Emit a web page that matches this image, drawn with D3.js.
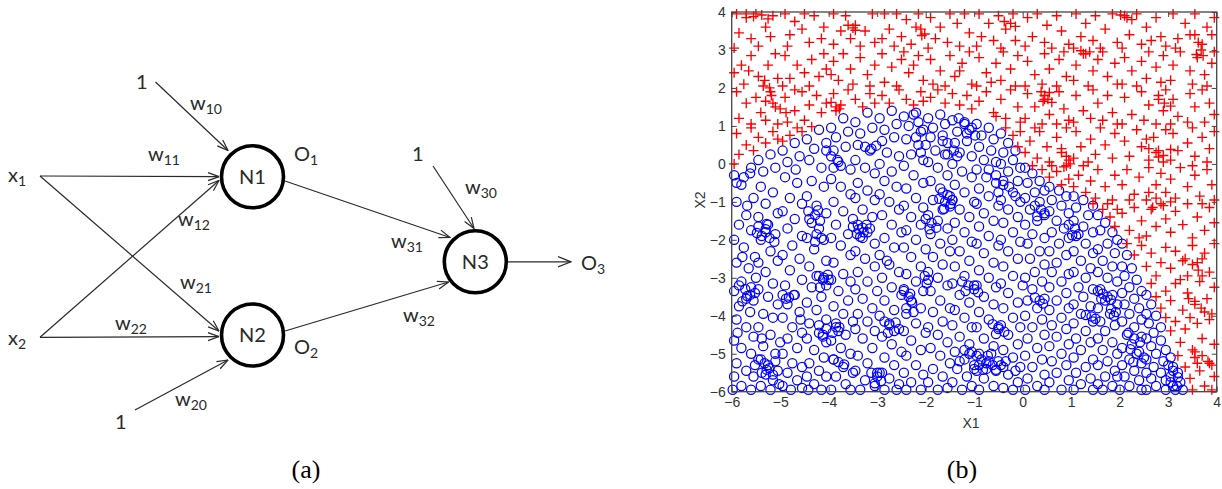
<!DOCTYPE html>
<html><head><meta charset="utf-8">
<script src="https://cdn.jsdelivr.net/npm/d3@7"></script>
<style>body{margin:0;background:#fff}svg{display:block}</style>
</head><body>
<svg id="fig" width="1222" height="489"></svg>
<script>
// ---------- DATA ----------
const xTicks = [-6,-5,-4,-3,-2,-1,0,1,2,3,4];
const yTicks = [-6,-5,-4,-3,-2,-1,0,1,2,3,4];
const xLabel = "X1";
const yLabel = "X2";
const panelLabels = ["(a)", "(b)"];
const nodeNames = ["N1", "N2", "N3"];

// class "o" (blue circles)
const blueClass = [
[-5.95,-0.3],[-5.8,-0.55],[-5.62,-0.25],[-5.9,-1.0],[-5.7,-1.35],[-5.55,-0.9],[-5.85,-1.6],[-5.6,-1.75],[-5.95,-2.0],[-5.75,-2.2],[-5.52,-2.45],[-5.9,-2.6],[-5.65,-2.75],[-5.8,-3.1],[-5.6,-3.25],[-5.95,-3.35],[-5.7,-3.55],[-5.52,-3.4],[-5.85,-3.75],[-5.62,-3.9],[-5.9,-4.1],[-5.7,-4.3],[-5.55,-4.55],[-5.95,-4.65],[-5.8,-4.85],[-5.6,-5.0],[-5.9,-5.25],[-5.7,-5.45],[-5.95,-5.6],[-5.55,-5.6],[-5.8,-5.85],[-5.6,-5.95],[-5.98,-5.95],[-5.68,-1.1],[-5.78,-2.45],[-5.5,-3.0],[-5.88,-4.45],[-5.52,-5.3],
[-5.45,0.1],[-5.2,0.25],[-5.35,-0.2],[-5.1,-0.1],[-5.4,-0.6],[-5.15,-0.75],[-5.3,-1.05],[-5.05,-1.3],[-5.45,-1.4],[-5.25,-1.6],[-5.1,-1.85],[-5.4,-2.0],[-5.2,-2.3],[-5.45,-2.6],[-5.05,-2.55],[-5.3,-2.85],[-5.15,-3.15],[-5.45,-3.3],[-5.25,-3.5],[-5.05,-3.7],[-5.35,-3.95],[-5.15,-4.05],[-5.45,-4.3],[-5.2,-4.5],[-5.0,-4.7],[-5.35,-4.8],[-5.1,-5.0],[-5.4,-5.15],[-5.25,-5.3],[-5.05,-5.45],[-5.3,-5.55],[-5.15,-5.7],[-5.4,-5.85],[-5.2,-5.95],[-5.02,-5.8],[-5.3,-1.8],[-5.12,-2.05],[-5.38,-4.6],
[-4.95,0.35],[-4.7,0.55],[-4.85,0.05],[-4.6,0.2],[-4.9,-0.35],[-4.65,-0.5],[-4.8,-0.9],[-4.55,-1.05],[-4.95,-1.25],[-4.7,-1.45],[-4.85,-1.7],[-4.55,-1.9],[-4.75,-2.15],[-4.95,-2.4],[-4.6,-2.5],[-4.8,-2.8],[-4.55,-3.05],[-4.9,-3.2],[-4.7,-3.45],[-4.85,-3.7],[-4.6,-3.9],[-4.95,-4.05],[-4.75,-4.3],[-4.55,-4.45],[-4.85,-4.6],[-4.65,-4.85],[-4.95,-5.0],[-4.75,-5.25],[-4.55,-5.35],[-4.85,-5.5],[-4.65,-5.7],[-4.95,-5.85],[-4.55,-5.9],[-4.78,-5.95],[-4.68,-0.15],[-4.88,-3.55],[-4.58,-4.1],
[-4.45,0.65],[-4.2,0.9],[-4.3,0.4],[-4.05,0.55],[-4.4,0.1],[-4.15,-0.1],[-4.35,-0.45],[-4.1,-0.6],[-4.45,-0.85],[-4.25,-1.1],[-4.05,-1.3],[-4.4,-1.45],[-4.2,-1.7],[-4.45,-1.95],[-4.1,-2.0],[-4.3,-2.25],[-4.05,-2.55],[-4.4,-2.7],[-4.2,-2.95],[-4.0,-3.05],[-4.35,-3.25],[-4.15,-3.5],[-4.45,-3.65],[-4.25,-3.85],[-4.05,-4.1],[-4.4,-4.2],[-4.2,-4.45],[-4.45,-4.6],[-4.05,-4.7],[-4.3,-4.9],[-4.1,-5.1],[-4.4,-5.25],[-4.2,-5.45],[-4.45,-5.6],[-4.05,-5.6],[-4.3,-5.8],[-4.15,-5.95],[-4.42,-5.95],[-4.1,-3.0],[-4.12,-4.55],
[-3.95,0.95],[-3.7,1.2],[-3.85,0.7],[-3.6,0.85],[-3.9,0.35],[-3.65,0.45],[-3.8,0.05],[-3.55,-0.15],[-3.95,-0.4],[-3.75,-0.6],[-3.55,-0.8],[-3.9,-1.0],[-3.7,-1.25],[-3.5,-1.45],[-3.85,-1.6],[-3.6,-1.85],[-3.95,-1.95],[-3.75,-2.15],[-3.55,-2.4],[-3.9,-2.6],[-3.7,-2.9],[-3.95,-3.05],[-3.55,-3.1],[-3.8,-3.35],[-3.6,-3.6],[-3.9,-3.75],[-3.7,-3.95],[-3.5,-4.15],[-3.85,-4.3],[-3.65,-4.5],[-3.95,-4.65],[-3.75,-4.85],[-3.55,-5.0],[-3.9,-5.15],[-3.7,-5.35],[-3.5,-5.5],[-3.85,-5.6],[-3.65,-5.8],[-3.95,-5.95],[-3.55,-5.95],[-3.8,-4.4],
[-3.45,1.1],[-3.2,1.35],[-3.35,0.8],[-3.1,0.95],[-3.4,0.5],[-3.15,0.35],[-3.45,0.1],[-3.25,-0.1],[-3.05,-0.25],[-3.4,-0.5],[-3.2,-0.7],[-3.45,-0.9],[-3.05,-0.95],[-3.3,-1.2],[-3.1,-1.4],[-3.4,-1.6],[-3.2,-1.8],[-3.3,-1.95],[-3.05,-2.1],[-3.45,-2.3],[-3.25,-2.5],[-3.05,-2.7],[-3.4,-2.85],[-3.2,-3.1],[-3.45,-3.3],[-3.0,-3.35],[-3.3,-3.55],[-3.1,-3.8],[-3.4,-3.95],[-3.2,-4.15],[-3.45,-4.35],[-3.05,-4.4],[-3.3,-4.6],[-3.1,-4.85],[-3.4,-5.05],[-3.2,-5.25],[-3.45,-5.45],[-3.0,-5.5],[-3.25,-5.7],[-3.05,-5.85],[-3.35,-5.95],[-3.15,-1.7],
[-2.95,1.2],[-2.7,1.4],[-2.85,0.9],[-2.6,1.05],[-2.9,0.6],[-2.65,0.7],[-2.8,0.3],[-2.55,0.2],[-2.95,0.0],[-2.7,-0.2],[-2.85,-0.45],[-2.6,-0.6],[-2.95,-0.8],[-2.75,-1.0],[-2.55,-1.2],[-2.9,-1.35],[-2.7,-1.6],[-2.5,-1.8],[-2.85,-1.95],[-2.65,-2.2],[-2.95,-2.4],[-2.75,-2.65],[-2.55,-2.85],[-2.9,-3.0],[-2.7,-3.25],[-2.5,-3.45],[-2.85,-3.6],[-2.65,-3.85],[-2.95,-4.0],[-2.75,-4.2],[-2.55,-4.35],[-2.9,-4.55],[-2.7,-4.75],[-2.5,-4.95],[-2.85,-5.1],[-2.65,-5.3],[-2.95,-5.5],[-2.75,-5.65],[-2.55,-5.8],[-2.85,-5.95],[-2.6,-5.95],[-2.8,-2.55],
[-2.45,1.25],[-2.2,1.35],[-2.35,1.0],[-2.1,0.85],[-2.4,0.65],[-2.15,0.5],[-2.3,0.25],[-2.05,0.1],[-2.45,-0.05],[-2.25,-0.3],[-2.05,-0.5],[-2.4,-0.65],[-2.2,-0.9],[-2.45,-1.1],[-2.05,-1.15],[-2.3,-1.4],[-2.1,-1.6],[-2.4,-1.75],[-2.2,-2.0],[-2.45,-2.2],[-2.0,-2.25],[-2.3,-2.45],[-2.1,-2.7],[-2.4,-2.9],[-2.2,-3.1],[-2.45,-3.3],[-2.05,-3.35],[-2.3,-3.6],[-2.1,-3.8],[-2.4,-3.95],[-2.2,-4.2],[-2.45,-4.4],[-2.0,-4.45],[-2.3,-4.65],[-2.1,-4.9],[-2.4,-5.05],[-2.2,-5.3],[-2.45,-5.5],[-2.05,-5.55],[-2.3,-5.75],[-2.1,-5.95],[-2.4,-5.95],
[-1.95,1.2],[-1.7,1.3],[-1.85,0.95],[-1.6,1.05],[-1.9,0.7],[-1.65,0.6],[-1.8,0.35],[-1.55,0.25],[-1.95,0.05],[-1.75,-0.1],[-1.55,-0.3],[-1.9,-0.45],[-1.7,-0.65],[-1.5,-0.85],[-1.85,-0.95],[-1.65,-1.2],[-1.95,-1.35],[-1.75,-1.5],[-1.55,-1.7],[-1.9,-1.85],[-1.7,-2.1],[-1.5,-2.3],[-1.85,-2.45],[-1.65,-2.65],[-1.95,-2.85],[-1.75,-3.0],[-1.55,-3.2],[-1.9,-3.35],[-1.7,-3.6],[-1.5,-3.8],[-1.85,-3.9],[-1.65,-4.15],[-1.95,-4.3],[-1.75,-4.5],[-1.55,-4.7],[-1.9,-4.85],[-1.7,-5.05],[-1.5,-5.25],[-1.85,-5.4],[-1.65,-5.6],[-1.95,-5.75],[-1.55,-5.9],[-1.75,-5.95],
[-1.45,1.15],[-1.2,1.1],[-1.35,0.85],[-1.1,0.9],[-1.4,0.55],[-1.15,0.6],[-1.3,0.3],[-1.05,0.2],[-1.45,0.0],[-1.25,-0.2],[-1.05,-0.35],[-1.4,-0.55],[-1.2,-0.75],[-1.45,-0.95],[-1.0,-1.0],[-1.3,-1.2],[-1.1,-1.4],[-1.4,-1.55],[-1.2,-1.8],[-1.45,-2.0],[-1.05,-2.05],[-1.3,-2.3],[-1.1,-2.55],[-1.4,-2.7],[-1.2,-2.95],[-1.45,-3.15],[-1.0,-3.2],[-1.3,-3.45],[-1.1,-3.65],[-1.4,-3.85],[-1.2,-4.05],[-1.45,-4.25],[-1.05,-4.3],[-1.3,-4.55],[-1.1,-4.75],[-1.4,-4.95],[-1.2,-5.15],[-1.0,-5.3],[-1.35,-5.4],[-1.15,-5.6],[-1.45,-5.75],[-1.25,-5.95],[-1.05,-5.85],[-1.1,-5.0],[-1.3,-5.2],[-1.2,-4.9],
[-0.95,1.05],[-0.7,0.95],[-0.85,0.75],[-0.6,0.65],[-0.9,0.45],[-0.65,0.35],[-0.8,0.1],[-0.55,0.05],[-0.95,-0.15],[-0.75,-0.35],[-0.55,-0.5],[-0.9,-0.65],[-0.7,-0.85],[-0.95,-1.05],[-0.5,-1.1],[-0.8,-1.3],[-0.6,-1.5],[-0.9,-1.65],[-0.7,-1.9],[-0.95,-2.1],[-0.5,-2.15],[-0.8,-2.35],[-0.6,-2.6],[-0.9,-2.8],[-0.7,-3.0],[-0.95,-3.2],[-0.55,-3.25],[-0.8,-3.5],[-0.6,-3.7],[-0.9,-3.9],[-0.7,-4.1],[-0.95,-4.3],[-0.5,-4.35],[-0.8,-4.6],[-0.6,-4.8],[-0.9,-5.0],[-0.7,-5.2],[-0.95,-5.45],[-0.55,-5.45],[-0.8,-5.65],[-0.6,-5.85],[-0.9,-5.95],[-0.75,-5.4],[-0.65,-5.0],
[-0.45,0.8],[-0.3,0.55],[-0.15,0.35],[-0.4,0.3],[-0.2,0.1],[-0.45,0.0],[-0.05,-0.1],[-0.3,-0.2],[-0.1,-0.45],[-0.4,-0.55],[-0.2,-0.75],[-0.45,-0.95],[-0.05,-1.0],[-0.3,-1.2],[-0.1,-1.4],[-0.4,-1.55],[-0.2,-1.8],[-0.45,-2.0],[-0.05,-2.05],[-0.3,-2.3],[-0.1,-2.5],[-0.4,-2.7],[-0.2,-2.95],[-0.45,-3.15],[0.0,-3.2],[-0.3,-3.4],[-0.1,-3.65],[-0.4,-3.8],[-0.2,-4.05],[-0.45,-4.25],[-0.05,-4.3],[-0.3,-4.5],[-0.1,-4.75],[-0.4,-4.9],[-0.2,-5.1],[-0.45,-5.3],[-0.05,-5.35],[-0.3,-5.55],[-0.1,-5.75],[-0.4,-5.9],[-0.2,-5.95],[-0.35,-5.2],[-0.15,-5.45],
[0.05,-0.1],[0.2,-0.25],[0.35,-0.45],[0.1,-0.5],[0.45,-0.7],[0.25,-0.75],[0.05,-0.9],[0.35,-1.0],[0.15,-1.2],[0.45,-1.3],[0.3,-1.5],[0.05,-1.6],[0.2,-1.85],[0.45,-1.95],[0.1,-2.1],[0.35,-2.3],[0.15,-2.5],[0.45,-2.65],[0.25,-2.85],[0.05,-3.0],[0.4,-3.1],[0.2,-3.3],[0.45,-3.55],[0.1,-3.6],[0.3,-3.8],[0.05,-4.0],[0.4,-4.1],[0.2,-4.3],[0.45,-4.5],[0.1,-4.6],[0.3,-4.85],[0.05,-5.05],[0.4,-5.15],[0.2,-5.35],[0.45,-5.55],[0.1,-5.65],[0.3,-5.85],[0.45,-5.95],[0.05,-5.95],
[0.55,-0.6],[0.75,-0.7],[0.9,-0.85],[0.6,-0.95],[0.8,-1.1],[0.55,-1.25],[0.95,-1.3],[0.7,-1.5],[0.85,-1.7],[0.6,-1.8],[0.95,-1.95],[0.75,-2.1],[0.55,-2.3],[0.9,-2.4],[0.7,-2.6],[0.6,-2.85],[0.95,-2.9],[0.8,-3.1],[0.55,-3.25],[0.9,-3.4],[0.7,-3.6],[0.95,-3.8],[0.55,-3.85],[0.8,-4.05],[0.6,-4.25],[0.9,-4.35],[0.7,-4.55],[0.95,-4.75],[0.55,-4.8],[0.8,-5.0],[0.6,-5.2],[0.9,-5.3],[0.7,-5.5],[0.95,-5.7],[0.55,-5.75],[0.8,-5.95],
[1.05,-0.85],[1.25,-0.95],[1.45,-1.1],[1.1,-1.15],[1.35,-1.35],[1.05,-1.5],[1.25,-1.65],[1.45,-1.8],[1.1,-1.9],[1.3,-2.1],[1.05,-2.3],[1.45,-2.35],[1.2,-2.55],[1.4,-2.75],[1.05,-2.85],[1.3,-3.0],[1.15,-3.25],[1.45,-3.3],[1.25,-3.5],[1.05,-3.7],[1.4,-3.75],[1.2,-3.95],[1.45,-4.15],[1.05,-4.2],[1.3,-4.4],[1.1,-4.6],[1.4,-4.7],[1.2,-4.9],[1.05,-5.1],[1.45,-5.15],[1.3,-5.35],[1.1,-5.5],[1.4,-5.65],[1.2,-5.8],[1.45,-5.95],[1.05,-5.95],
[1.55,-1.35],[1.7,-1.55],[1.85,-1.8],[1.6,-1.75],[1.95,-2.0],[1.75,-2.1],[1.55,-2.25],[1.9,-2.35],[1.65,-2.55],[1.85,-2.7],[1.55,-2.85],[1.75,-3.0],[1.95,-3.1],[1.6,-3.3],[1.85,-3.45],[1.7,-3.6],[1.95,-3.7],[1.55,-3.8],[1.8,-3.95],[1.6,-4.15],[1.9,-4.25],[1.7,-4.4],[1.55,-4.6],[1.85,-4.7],[1.65,-4.9],[1.95,-5.0],[1.75,-5.2],[1.55,-5.3],[1.9,-5.45],[1.7,-5.6],[1.55,-5.8],[1.85,-5.85],[1.95,-5.6],[1.65,-5.95],
[2.05,-2.1],[2.15,-2.4],[2.05,-2.7],[2.25,-2.75],[2.1,-2.95],[2.35,-3.05],[2.2,-3.25],[2.45,-3.35],[2.05,-3.4],[2.3,-3.55],[2.1,-3.7],[2.4,-3.8],[2.2,-3.95],[2.45,-4.1],[2.05,-4.15],[2.3,-4.3],[2.15,-4.5],[2.45,-4.55],[2.25,-4.75],[2.05,-4.85],[2.4,-4.95],[2.2,-5.15],[2.45,-5.25],[2.05,-5.3],[2.3,-5.45],[2.1,-5.6],[2.4,-5.7],[2.2,-5.85],[2.45,-5.95],[2.0,-5.95],
[2.55,-3.45],[2.65,-3.7],[2.55,-3.95],[2.75,-4.0],[2.6,-4.2],[2.85,-4.3],[2.7,-4.45],[2.55,-4.6],[2.85,-4.65],[2.65,-4.8],[2.95,-4.9],[2.75,-5.0],[2.55,-5.15],[2.9,-5.2],[2.7,-5.35],[2.55,-5.5],[2.85,-5.5],[2.65,-5.65],[2.95,-5.7],[2.75,-5.85],[2.55,-5.95],[2.95,-5.95],
[3.05,-5.1],[3.1,-5.35],[3.2,-5.5],[3.05,-5.6],[3.25,-5.75],[3.1,-5.85],[3.3,-5.95],[3.15,-5.95],
[-5.45,-1.65],[-5.3,-1.72],[-5.38,-1.9],[-5.22,-1.95],[-5.48,-1.82],[-5.28,-1.58],
[-4.42,-1.25],[-4.28,-1.35],[-4.18,-1.5],[-4.35,-1.55],[-4.22,-1.22],
[-4.25,-1.85],[-4.15,-1.95],[-4.28,-2.05],
[-3.5,-1.65],[-3.38,-1.72],[-3.28,-1.8],[-3.35,-1.92],[-3.22,-1.6],[-3.42,-1.85],[-3.3,-1.68],
[-4.25,-2.95],[-4.12,-3.05],[-4.05,-3.2],[-4.18,-3.25],[-4.02,-2.92],
[-5.85,-3.2],[-5.72,-3.3],[-5.62,-3.45],[-5.78,-3.62],[-5.55,-3.6],[-5.68,-3.48],
[-4.95,-3.45],[-4.82,-3.52],[-4.72,-3.45],
[-5.45,-5.15],[-5.32,-5.25],[-5.22,-5.38],[-5.38,-5.5],[-5.15,-5.55],[-5.28,-5.42],[-5.1,-5.2],
[-4.2,-4.25],[-4.05,-4.35],[-3.92,-4.45],[-3.78,-4.3],[-4.12,-4.5],[-3.85,-4.2],
[-2.85,-4.15],[-2.75,-4.25],[-2.65,-4.4],[-2.78,-4.45],[-2.62,-4.18],
[-2.45,-3.35],[-2.35,-3.5],[-2.28,-3.65],[-2.4,-3.8],[-2.25,-3.9],[-2.32,-3.42],
[-3.12,-5.5],[-3.0,-5.6],[-2.92,-5.72],[-3.05,-5.78],[-2.9,-5.5],
[-2.02,-2.95],[-1.95,-3.05],[-1.98,-3.15],
[-3.9,-5.15],[-3.8,-5.22],[-3.68,-5.28],
[-1.72,-0.92],[-1.6,-1.0],[-1.5,-1.12],[-1.62,-1.18],[-1.45,-0.95],
[-2.0,-1.45],[-1.88,-1.55],[-1.78,-1.68],[-1.92,-1.72],
[-1.05,-4.95],[-0.95,-5.05],[-0.85,-5.15],[-0.75,-5.25],[-0.62,-5.3],[-0.5,-5.2],[-0.4,-5.35],[-0.9,-5.3],[-0.72,-5.05],[-0.55,-5.42],[-1.0,-5.4],[-0.82,-5.42],
[0.25,-1.1],[0.38,-1.2],[0.45,-1.35],[0.3,-1.38],
[0.95,-1.6],[1.08,-1.7],[1.15,-1.85],[1.02,-1.88],
[1.55,-3.35],[1.65,-3.42],[1.75,-3.5],[1.82,-3.58],[1.62,-3.55],
[1.82,-3.82],[1.92,-3.9],[1.88,-4.0],
[1.3,-3.98],[1.42,-4.02],[1.5,-4.08],
[2.18,-4.45],[2.3,-4.6],[2.42,-4.7],[2.22,-4.88],[2.35,-5.0],[2.5,-5.1],[2.28,-5.22],
[0.25,-3.52],[0.35,-3.6],[0.42,-3.68],
[-0.62,-4.22],[-0.5,-4.3],[-0.38,-4.42],[-0.55,-4.48],
[-1.65,-0.75],[-1.55,-0.82],[-1.48,-1.05],
[-1.25,-3.1],[-1.12,-3.2],[-1.0,-3.3],[-0.92,-3.38],[-1.18,-3.35],
[3.0,-5.3],[3.1,-5.45],[3.2,-5.62],[3.05,-5.75],[3.18,-5.85],
[-1.32,1.2],[-1.2,1.05],[-1.05,0.95],[-1.15,0.8],[-0.98,0.75],
[-1.65,0.75],[-1.55,0.55],[-1.42,0.35],[-1.35,0.2],[-1.6,0.25],
[-0.7,-0.15],[-0.55,-0.3],[-0.4,-0.45],[-0.28,-0.6],[-0.15,-0.85],[-0.5,-0.75],
[-4.05,0.35],[-3.95,0.2],[-3.82,0.1],[-3.75,-0.05],[-3.9,-0.1],
[-2.25,1.3],[-2.15,1.1],[-2.05,0.9],[-2.2,0.7],[-2.0,0.5],[-2.1,0.3],
[-3.25,0.45],[-3.12,0.4],[-3.02,0.48],
[-5.6,-0.1],[-5.75,-0.35],[-5.9,-0.5]
];

// class "+" (red crosses)
const redClass = [
[-5.9,3.95],[-5.7,3.85],[-5.5,3.95],[-5.85,3.45],[-5.6,3.3],[-5.3,3.6],[-5.95,3.05],[-5.45,3.1],[-5.15,3.9],[-5.2,3.35],
[-4.9,3.95],[-4.7,3.75],[-4.5,3.95],[-4.8,3.4],[-4.55,3.55],[-4.3,3.9],[-4.1,3.6],[-4.4,3.2],[-4.85,3.1],[-4.15,3.3],
[-3.9,3.95],[-3.65,3.9],[-3.45,3.65],[-3.75,3.5],[-3.55,3.3],[-3.25,3.5],[-3.9,3.15],[-3.1,3.95],[-3.35,3.1],[-3.05,3.2],
[-2.85,3.95],[-2.6,3.95],[-2.4,3.8],[-2.75,3.55],[-2.9,3.3],[-2.5,3.35],[-2.2,3.6],[-2.15,3.95],[-2.65,3.1],[-2.3,3.15],
[-1.9,3.85],[-1.7,3.6],[-1.5,3.95],[-1.35,3.7],[-1.8,3.3],[-1.55,3.2],[-1.2,3.95],[-1.1,3.45],[-1.95,3.05],[-1.3,3.1],
[-0.9,3.95],[-0.7,3.7],[-0.5,3.9],[-0.85,3.35],[-0.6,3.25],[-0.35,3.55],[-0.2,3.95],[-0.15,3.25],[-0.45,3.05],[-0.95,3.1],
[0.1,3.85],[0.3,3.95],[0.5,3.65],[0.2,3.35],[0.45,3.2],[0.7,3.9],[0.8,3.5],[0.95,3.15],[0.6,3.05],[0.05,3.1],
[1.1,3.95],[1.3,3.7],[1.5,3.9],[1.2,3.35],[1.45,3.25],[1.7,3.55],[1.85,3.95],[1.95,3.2],[1.6,3.05],[1.05,3.05],
[2.1,3.9],[2.35,3.95],[2.55,3.6],[2.2,3.4],[2.45,3.15],[2.75,3.85],[2.85,3.35],[2.95,3.1],[2.65,3.25],[2.05,3.05],
[3.1,3.95],[3.35,3.7],[3.55,3.95],[3.8,3.6],[3.95,3.85],[3.2,3.3],[3.45,3.4],[3.7,3.15],[3.9,3.4],[3.15,3.05],
[-5.95,2.4],[-5.8,2.6],[-5.6,2.85],[-5.75,2.1],[-5.45,2.3],[-5.25,2.6],[-5.1,2.9],[-5.35,2.05],[-5.05,2.25],[-5.65,2.45],
[-4.9,2.85],[-4.65,2.6],[-4.8,2.25],[-4.5,2.4],[-4.35,2.75],[-4.1,2.9],[-4.2,2.3],[-4.95,2.05],[-4.4,2.05],[-4.05,2.5],
[-3.9,2.7],[-3.7,2.9],[-3.55,2.5],[-3.8,2.2],[-3.35,2.8],[-3.2,2.35],[-3.5,2.1],[-3.05,2.6],[-3.95,2.35],[-3.15,2.05],
[-2.9,2.9],[-2.7,2.55],[-2.85,2.15],[-2.5,2.75],[-2.35,2.4],[-2.6,2.05],[-2.15,2.85],[-2.05,2.2],[-2.45,2.95],[-2.25,2.6],
[-1.9,2.75],[-1.7,2.45],[-1.85,2.1],[-1.5,2.85],[-1.4,2.3],[-1.25,2.65],[-1.1,2.95],[-1.05,2.1],[-1.6,2.05],[-1.3,2.45],
[-0.9,2.8],[-0.75,2.4],[-0.95,2.05],[-0.55,2.65],[-0.4,2.95],[-0.45,2.2],[-0.25,2.5],[-0.1,2.85],[-0.15,2.05],[-0.65,2.15],
[0.1,2.7],[0.25,2.35],[0.05,2.05],[0.45,2.9],[0.55,2.5],[0.4,2.1],[0.75,2.75],[0.9,2.3],[0.85,2.95],[0.7,2.05],
[1.1,2.6],[1.25,2.9],[1.05,2.2],[1.45,2.45],[1.55,2.75],[1.35,2.05],[1.75,2.3],[1.9,2.65],[1.65,2.95],[1.95,2.1],
[2.1,2.8],[2.25,2.45],[2.05,2.1],[2.45,2.7],[2.6,2.95],[2.55,2.25],[2.75,2.55],[2.9,2.85],[2.85,2.15],[2.35,2.05],
[3.1,2.6],[3.25,2.95],[3.05,2.2],[3.45,2.45],[3.6,2.8],[3.5,2.1],[3.75,2.35],[3.9,2.65],[3.95,2.95],[3.8,2.05],
[-5.9,1.9],[-5.7,1.6],[-5.85,1.2],[-5.5,1.75],[-5.4,1.35],[-5.6,1.05],[-5.2,1.9],[-5.1,1.5],[-5.3,1.15],[-5.05,1.05],
[-4.9,1.75],[-4.7,1.4],[-4.85,1.1],[-4.55,1.9],[-4.4,1.55],[-4.5,1.15],[-4.25,1.8],[-4.15,1.35],[-4.05,1.6],[-4.7,1.95],
[-3.9,1.85],[-3.75,1.55],[-3.6,1.95],[-3.45,1.7],[-3.3,1.5],[-3.15,1.85],[-3.05,1.6],[-3.85,1.4],
[-2.9,1.8],[-2.75,1.6],[-2.55,1.95],[-2.4,1.7],[-2.25,1.55],[-2.1,1.9],[-2.05,1.65],
[-1.9,1.75],[-1.75,1.95],[-1.6,1.6],[-1.45,1.85],[-1.3,1.55],[-1.15,1.8],[-1.05,1.45],
[-0.9,1.65],[-0.75,1.9],[-0.6,1.35],[-0.45,1.7],[-0.35,1.2],[-0.25,1.95],[-0.1,1.5],[-0.05,1.1],[-0.55,1.25],
[0.1,1.85],[0.25,1.5],[0.05,1.2],[0.45,1.7],[0.55,1.3],[0.4,1.05],[0.75,1.9],[0.85,1.45],[0.95,1.15],[0.7,1.05],
[1.1,1.8],[1.25,1.4],[1.05,1.1],[1.45,1.95],[1.55,1.6],[1.4,1.2],[1.75,1.8],[1.85,1.35],[1.95,1.05],[1.65,1.15],
[2.1,1.75],[2.25,1.3],[2.05,1.05],[2.45,1.9],[2.6,1.55],[2.5,1.15],[2.8,1.8],[2.9,1.4],[2.75,1.05],[2.95,1.95],
[3.1,1.7],[3.2,1.25],[3.05,1.05],[3.45,1.85],[3.55,1.5],[3.4,1.1],[3.7,1.95],[3.85,1.6],[3.95,1.3],[3.75,1.1],
[-5.95,0.0],[-5.85,0.25],[-5.7,0.5],[-5.9,0.8],[-5.55,0.35],[-5.45,0.7],[-5.3,0.55],[-5.15,0.85],[-5.6,0.95],[-5.05,0.65],
[-4.95,0.6],[-4.8,0.75],[-4.65,0.95],[-4.55,0.85],[-4.35,0.98],
[-0.35,0.95],[-0.2,0.75],[-0.1,0.45],[-0.05,0.85],
[0.05,0.3],[0.15,0.6],[0.3,0.15],[0.35,0.85],[0.5,0.45],[0.55,0.05],[0.7,0.7],[0.8,0.3],[0.9,0.95],[0.95,0.1],[0.25,0.95],
[1.1,0.85],[1.2,0.45],[1.05,0.15],[1.4,0.65],[1.5,0.25],[1.6,0.95],[1.7,0.5],[1.85,0.15],[1.9,0.8],[1.35,0.05],
[2.1,0.6],[2.2,0.2],[2.35,0.9],[2.45,0.45],[2.6,0.1],[2.7,0.7],[2.8,0.35],[2.95,0.9],[2.9,0.05],[2.55,0.65],
[3.1,0.8],[3.2,0.35],[3.05,0.1],[3.4,0.55],[3.5,0.95],[3.55,0.2],[3.7,0.7],[3.85,0.4],[3.95,0.85],[3.8,0.05],
[0.2,-0.05],[0.4,-0.15],[0.55,-0.35],[0.7,-0.2],[0.8,-0.55],[0.95,-0.4],[0.9,-0.05],[0.6,-0.05],
[1.05,-0.6],[1.15,-0.3],[1.3,-0.75],[1.4,-0.45],[1.5,-0.9],[1.55,-0.15],[1.7,-0.6],[1.85,-0.95],[1.9,-0.3],[1.25,-0.05],
[2.05,-0.55],[2.15,-0.15],[2.3,-0.8],[2.4,-0.35],[2.55,-0.95],[2.6,-0.1],[2.75,-0.55],[2.85,-0.25],[2.95,-0.75],[2.2,-0.95],
[3.05,-0.4],[3.15,-0.9],[3.25,-0.1],[3.4,-0.6],[3.55,-0.3],[3.65,-0.85],[3.8,-0.15],[3.9,-0.55],[3.95,-0.95],[3.5,-0.05],
[1.45,-1.05],[1.65,-1.2],[1.8,-1.4],[1.9,-1.65],[1.95,-1.2],[1.75,-1.05],
[2.05,-1.3],[2.2,-1.75],[2.3,-1.15],[2.45,-1.5],[2.55,-1.9],[2.65,-1.2],[2.75,-1.65],[2.85,-1.05],[2.95,-1.45],[2.4,-1.95],
[3.05,-1.8],[3.15,-1.25],[3.3,-1.6],[3.4,-1.05],[3.5,-1.95],[3.6,-1.4],[3.75,-1.75],[3.85,-1.15],[3.95,-1.55],[3.7,-1.05],
[2.15,-2.1],[2.3,-2.4],[2.45,-2.15],[2.55,-2.7],[2.65,-2.35],[2.75,-2.95],[2.85,-2.6],[2.95,-2.2],
[3.05,-2.75],[3.15,-2.3],[3.3,-2.55],[3.4,-2.95],[3.5,-2.15],[3.6,-2.6],[3.75,-2.35],[3.85,-2.85],[3.95,-2.1],[3.7,-2.95],
[2.65,-3.15],[2.75,-3.5],[2.85,-3.8],[2.95,-3.35],
[3.05,-3.6],[3.15,-3.15],[3.3,-3.85],[3.4,-3.4],[3.55,-3.7],[3.65,-3.1],[3.8,-3.55],[3.9,-3.95],[3.95,-3.25],[3.25,-3.05],
[2.95,-4.05],[3.05,-4.4],[3.15,-4.15],[3.25,-4.7],[3.35,-4.35],[3.5,-4.9],[3.6,-4.2],[3.7,-4.6],[3.85,-4.1],[3.95,-4.75],[3.45,-4.05],
[3.2,-5.05],[3.35,-5.35],[3.45,-5.65],[3.55,-5.1],[3.65,-5.45],[3.75,-5.85],[3.85,-5.25],[3.95,-5.6],[3.5,-5.95],[3.9,-5.95],
[0.38,1.9],[0.45,1.8],[0.52,1.7],[0.6,1.62],[0.42,1.65],[0.55,1.88],
[1.2,2.98],[1.3,2.9],[1.38,2.95],
[3.55,3.4],[3.62,3.2],[3.68,3.0],[3.58,2.88],[3.72,2.85],
[2.6,0.4],[2.75,0.3],[2.9,0.22],[3.05,0.38],[2.8,0.18],
[0.8,0.4],[0.9,0.2],[0.98,0.0],[0.85,-0.08],
[-0.38,3.75],[-0.25,3.7],[-0.15,3.62],
[2.02,3.92],[2.15,3.85],[2.25,3.8],
[2.8,1.7],[2.92,1.6],[3.05,1.52],
[-5.7,3.95],[-5.55,3.88],[-5.38,3.92],[-5.25,3.82],
[-5.32,2.2],[-5.22,2.0],[-5.18,1.8],[-5.3,1.65],
[-3.6,3.65],[-3.5,3.58],[-3.45,3.52],
[-3.95,1.62],[-3.85,1.5],[-3.78,1.45],
[-2.1,3.55],[-2.02,3.42],[-2.08,3.38],
[-5.15,1.6],[-5.0,1.45],[-4.88,1.35],
[2.6,-0.75],[2.75,-0.9],[2.9,-1.1],[3.05,-1.0],[2.68,-1.15],
[3.42,-3.55],[3.55,-3.62],[3.68,-3.8],[3.75,-3.9],
[3.55,-4.95],[3.7,-5.05],[3.82,-5.2],[3.9,-5.3],[3.6,-5.25],
[3.35,-2.5],[3.5,-2.65],[3.62,-2.8],[3.7,-2.5]
];

// ---------- DRAWING ----------
const svg = d3.select("#fig");
const ink = "#2a2a2a";
const txtFont = "Lato, 'Open Sans', sans-serif";

// ----- panel (a): network diagram -----
const defs = svg.append("defs");
defs.append("marker").attr("id","arr").attr("viewBox","0 0 12 10")
  .attr("refX",11.5).attr("refY",5).attr("markerWidth",12).attr("markerHeight",10)
  .attr("markerUnits","userSpaceOnUse").attr("orient","auto")
  .append("path").attr("d","M0.5,1 L11.5,5 L0.5,9").attr("fill","none")
  .attr("stroke",ink).attr("stroke-width",1.2);
defs.append("marker").attr("id","arrBig").attr("viewBox","0 0 14 12")
  .attr("refX",13.5).attr("refY",6).attr("markerWidth",14).attr("markerHeight",12)
  .attr("markerUnits","userSpaceOnUse").attr("orient","auto")
  .append("path").attr("d","M0.5,0.8 L13.5,6 L0.5,11.2").attr("fill","none")
  .attr("stroke",ink).attr("stroke-width",1.3);

const ga = svg.append("g");
const nodePos = {N1:[252.5,176.8], N2:[252.5,335], N3:[475.3,261.8]};
const nodeR = 31;
const edges = [
  [[40,176],[219,176.6],"arr"],
  [[40,176],[219,331],"arr"],
  [[40,337.3],[219,180.5],"arr"],
  [[40,337.3],[219,336.6],"arr"],
  [[155.5,82],[228,150.5],"arr"],
  [[135,410],[228,360],"arr"],
  [[285,181],[450,237.5],"arr"],
  [[285,331],[448.5,282],"arr"],
  [[433,166],[474,228.5],"arr"],
  [[508,261.8],[571,261.8],"arrBig"]
];
ga.selectAll("line.e").data(edges).join("line").attr("class","e")
  .attr("x1",d=>d[0][0]).attr("y1",d=>d[0][1]).attr("x2",d=>d[1][0]).attr("y2",d=>d[1][1])
  .attr("stroke",ink).attr("stroke-width",1.2).attr("marker-end",d=>`url(#${d[2]})`);

ga.selectAll("circle.n").data(nodeNames).join("circle").attr("class","n")
  .attr("cx",d=>nodePos[d][0]).attr("cy",d=>nodePos[d][1]).attr("r",nodeR)
  .attr("fill","#fff").attr("stroke","#000").attr("stroke-width",3.6);
ga.selectAll("text.n").data(nodeNames).join("text").attr("class","n")
  .attr("x",d=>nodePos[d][0]).attr("y",d=>nodePos[d][1]+7)
  .attr("text-anchor","middle").style("font-family",txtFont).style("font-size","20px")
  .attr("fill",ink).text(d=>d);

function lab(x, y, main, sub){
  const t = ga.append("text").attr("x",x).attr("y",y).attr("fill",ink)
    .style("font-family",txtFont).style("font-size","20px");
  t.append("tspan").text(main);
  if (sub) t.append("tspan").attr("dy",4).style("font-size","14px").text(sub);
}
const labels = [
  [136,89,"1",""], [115,429,"1",""], [412,161,"1",""],
  [190,110,"w","10"], [148,161,"w","11"], [178,226,"w","12"],
  [180,289,"w","21"], [115,330,"w","22"], [175,406,"w","20"],
  [465,194,"w","30"], [391,248,"w","31"], [403,322,"w","32"],
  [8,182,"x","1"], [8,345,"x","2"],
  [294,161,"O","1"], [294,354,"O","2"], [581,270,"O","3"]
];
labels.forEach(l=>lab(...l));

// ----- panel (b): scatter -----
const x = d3.scaleLinear().domain([-6,4]).range([731.7,1216.7]);
const y = d3.scaleLinear().domain([-6,4]).range([391.7,12]);
const gb = svg.append("g");

const axStyle = g => {
  g.select(".domain").remove();
  g.selectAll(".tick line").attr("stroke","#444").attr("stroke-width",1);
  g.selectAll(".tick text").attr("fill","#333")
    .style("font-family","'Liberation Sans', Arial, sans-serif").style("font-size","14px");
};
gb.append("g").attr("transform",`translate(0,${y(-6)})`)
  .call(d3.axisBottom(x).tickValues(xTicks).tickFormat(d3.format("d")).tickSizeInner(-5).tickSizeOuter(0).tickPadding(5)).call(axStyle);
gb.append("g").attr("transform",`translate(${x(-6)},0)`)
  .call(d3.axisLeft(y).tickValues(yTicks).tickFormat(d3.format("d")).tickSizeInner(-5).tickSizeOuter(0).tickPadding(6)).call(axStyle);
gb.append("g").attr("transform",`translate(0,${y(4)})`)
  .call(d3.axisTop(x).tickValues(xTicks).tickFormat("").tickSizeInner(-5).tickSizeOuter(0)).call(axStyle);
gb.append("g").attr("transform",`translate(${x(4)},0)`)
  .call(d3.axisRight(y).tickValues(yTicks).tickFormat("").tickSizeInner(-5).tickSizeOuter(0)).call(axStyle);

gb.append("g").selectAll("circle").data(blueClass).join("circle")
  .attr("cx",d=>x(d[0])).attr("cy",d=>y(d[1])).attr("r",4.6)
  .attr("fill","none").attr("stroke","#0000ff").attr("stroke-width",1.25);
gb.append("g").selectAll("path").data(redClass).join("path")
  .attr("d",d=>`M${x(d[0])-5},${y(d[1])}h10M${x(d[0])},${y(d[1])-5}v10`)
  .attr("fill","none").attr("stroke","#ff0000").attr("stroke-width",1.35);

gb.append("rect").attr("x",x(-6)).attr("y",y(4)).attr("width",x(4)-x(-6)).attr("height",y(-6)-y(4))
  .attr("fill","none").attr("stroke","#444").attr("stroke-width",1.3);

gb.append("text").attr("x",971).attr("y",428).attr("text-anchor","middle").attr("fill","#333")
  .style("font-family","'Liberation Sans', Arial, sans-serif").style("font-size","14px").text(xLabel);
gb.append("text").attr("transform","translate(705,200) rotate(-90)").attr("text-anchor","middle").attr("fill","#333")
  .style("font-family","'Liberation Sans', Arial, sans-serif").style("font-size","14px").text(yLabel);

// panel labels
svg.selectAll("text.p").data(panelLabels).join("text").attr("class","p")
  .attr("x",(d,i)=>[306,962][i]).attr("y",478).attr("text-anchor","middle").attr("fill","#000")
  .style("font-family","'Liberation Serif', 'DejaVu Serif', serif").style("font-size","26px").text(d=>d);
</script>
</body></html>
